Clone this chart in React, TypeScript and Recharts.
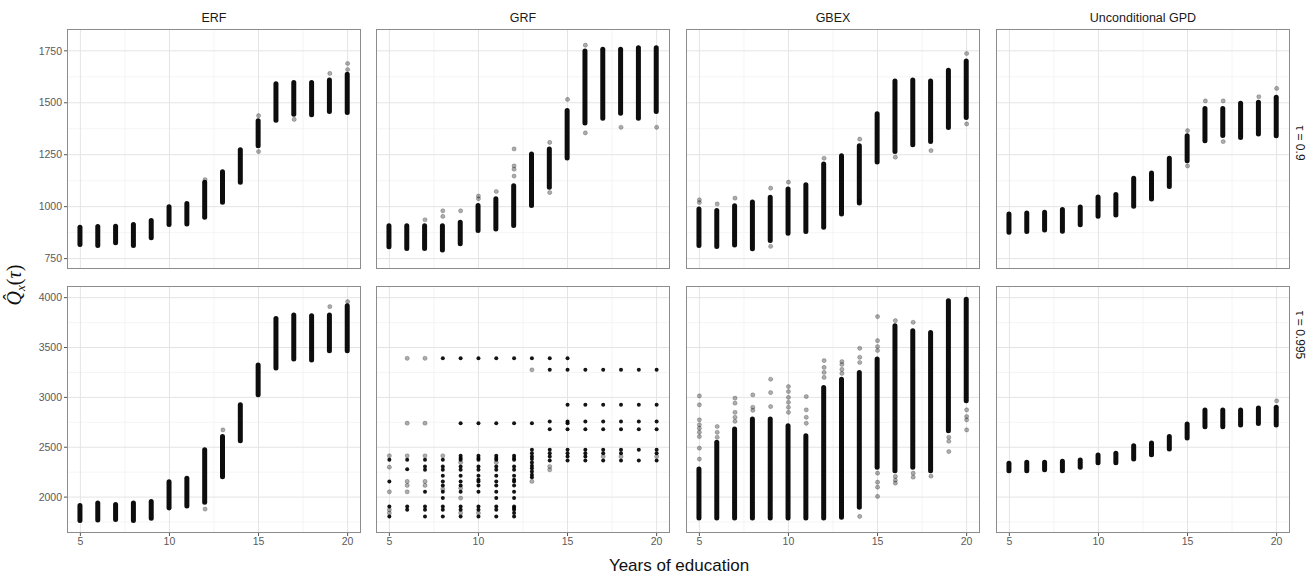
import React from 'react';
import { Bar, CartesianGrid, ComposedChart, Scatter, XAxis, YAxis } from 'recharts';

const YEARS = [5, 6, 7, 8, 9, 10, 11, 12, 13, 14, 15, 16, 17, 18, 19, 20];
const X_TICKS = [5, 10, 15, 20];
const X_MINOR = [7.5, 12.5, 17.5];
const Y_TICKS_090 = [750, 1000, 1250, 1500, 1750];
const Y_MINOR_090 = [875, 1125, 1375, 1625];
const Y_TICKS_995 = [2000, 2500, 3000, 3500, 4000];
const Y_MINOR_995 = [1750, 2250, 2750, 3250, 3750];
const METHODS = ['ERF', 'GRF', 'GBEX', 'Unconditional GPD'];
const TAUS = ['τ = 0.9', 'τ = 0.995'];

type Pt = [number, number];

// tau = 0.9 : spread of the estimates at each year of education
const ERF_090_LOW = [806, 801, 814, 801, 838, 902, 905, 937, 1009, 1105, 1281, 1404, 1433, 1430, 1446, 1441];
const ERF_090_HIGH = [913, 916, 918, 926, 945, 1012, 1027, 1129, 1180, 1286, 1425, 1604, 1609, 1609, 1622, 1649];
const ERF_090_OUT: Pt[] = [[12, 1130], [15, 1265], [15, 1438], [17, 1420], [19, 1641], [20, 1689], [20, 1660]];

const GRF_090_LOW = [795, 787, 787, 780, 810, 873, 881, 897, 993, 1081, 1222, 1390, 1414, 1438, 1414, 1446];
const GRF_090_HIGH = [920, 920, 920, 920, 937, 1018, 1050, 1113, 1265, 1289, 1475, 1761, 1769, 1769, 1777, 1777];
const GRF_090_OUT: Pt[] = [
  [7, 937], [8, 980], [8, 953], [9, 980], [10, 1051], [10, 1038], [11, 1073], [12, 1278], [12, 1196],
  [12, 1180], [12, 1147], [14, 1309], [14, 1068], [15, 1516], [16, 1777], [16, 1355], [18, 1382], [20, 1382],
];

const GBEX_090_LOW = [801, 796, 804, 786, 825, 860, 869, 889, 953, 1006, 1203, 1254, 1286, 1302, 1369, 1417];
const GBEX_090_HIGH = [1001, 993, 1017, 1035, 1057, 1097, 1118, 1217, 1257, 1305, 1459, 1617, 1621, 1617, 1669, 1713];
const GBEX_090_OUT: Pt[] = [
  [5, 1033], [5, 1020], [6, 1013], [7, 1041], [9, 1089], [9, 809], [10, 1118], [12, 1233], [14, 1325],
  [14, 1025], [16, 1238], [18, 1270], [20, 1737], [20, 1398],
];

const GPD_090_LOW = [865, 868, 876, 870, 901, 942, 948, 990, 1025, 1085, 1209, 1305, 1330, 1321, 1338, 1329];
const GPD_090_HIGH = [977, 982, 985, 998, 1011, 1059, 1070, 1149, 1174, 1245, 1353, 1485, 1485, 1510, 1514, 1538];
const GPD_090_OUT: Pt[] = [[15, 1366], [15, 1196], [16, 1509], [17, 1509], [17, 1313], [19, 1529], [20, 1569]];

// tau = 0.995
const ERF_995_LOW = [1740, 1746, 1750, 1740, 1763, 1866, 1886, 1923, 2180, 2541, 3002, 3269, 3359, 3349, 3442, 3442];
const ERF_995_HIGH = [1940, 1967, 1950, 1967, 1980, 2180, 2214, 2501, 2634, 2952, 3349, 3816, 3850, 3843, 3850, 3943];
const ERF_995_OUT: Pt[] = [[12, 1880], [13, 2674], [19, 3910], [20, 3960]];

const GRF_995_SOLID: Pt[] = [
  [5, 2374], [5, 2157], [5, 1906], [5, 1806],
  [6, 2374], [6, 2280], [6, 1906], [6, 1873],
  [7, 2374], [7, 2307], [7, 2274], [7, 2053], [7, 1906], [7, 1873], [7, 1806],
  [8, 3392], [8, 2374], [8, 2307], [8, 2274], [8, 2214], [8, 2157], [8, 2117], [8, 2053], [8, 1990], [8, 1906], [8, 1873], [8, 1806],
  [9, 3392], [9, 2741], [9, 2414], [9, 2391], [9, 2374], [9, 2307], [9, 2274], [9, 2214], [9, 2157], [9, 2117], [9, 2053], [9, 1906], [9, 1873], [9, 1806],
  [10, 3392], [10, 2741], [10, 2414], [10, 2391], [10, 2374], [10, 2307], [10, 2274], [10, 2214], [10, 2174], [10, 2157], [10, 2117], [10, 2053], [10, 1906], [10, 1873], [10, 1806],
  [11, 3392], [11, 2741], [11, 2414], [11, 2391], [11, 2374], [11, 2307], [11, 2274], [11, 2214], [11, 2157], [11, 2117], [11, 2053], [11, 1990], [11, 1906], [11, 1873], [11, 1806],
  [12, 3392], [12, 2741], [12, 2414], [12, 2391], [12, 2374], [12, 2307], [12, 2274], [12, 2214], [12, 2174], [12, 2157], [12, 2117], [12, 2053], [12, 1990], [12, 1906], [12, 1890], [12, 1873], [12, 1840], [12, 1806],
  [13, 3392], [13, 2741], [13, 2474], [13, 2441], [13, 2407], [13, 2381], [13, 2347], [13, 2314], [13, 2290], [13, 2257], [13, 2224], [13, 2200],
  [14, 3392], [14, 3276], [14, 2758], [14, 2681], [14, 2474], [14, 2441], [14, 2407], [14, 2367],
  [15, 3392], [15, 3276], [15, 2925], [15, 2758], [15, 2741], [15, 2681], [15, 2474], [15, 2441], [15, 2407], [15, 2367],
  [16, 3276], [16, 2925], [16, 2758], [16, 2681], [16, 2474], [16, 2441], [16, 2407], [16, 2367],
  [17, 3276], [17, 2925], [17, 2758], [17, 2681], [17, 2474], [17, 2441], [17, 2367],
  [18, 3276], [18, 2925], [18, 2758], [18, 2681], [18, 2474], [18, 2441], [18, 2367],
  [19, 3276], [19, 2925], [19, 2758], [19, 2681], [19, 2474], [19, 2367],
  [20, 3276], [20, 2925], [20, 2758], [20, 2681], [20, 2474], [20, 2441], [20, 2367],
];
const GRF_995_FAINT: Pt[] = [
  [5, 2414], [5, 2300], [5, 2053], [5, 1873], [5, 1840],
  [6, 3392], [6, 2741], [6, 2414], [6, 2157], [6, 2117], [6, 2053],
  [7, 3392], [7, 2741], [7, 2414], [7, 2157], [7, 2117],
  [8, 2414], [8, 2080],
  [9, 2347], [9, 2090], [9, 1990], [9, 1840],
  [10, 1840], [11, 2347],
  [13, 3276], [13, 2157], [14, 2307], [14, 2274],
  [17, 2407], [18, 2407], [20, 2407],
];

const GBEX_995_LOW = [1766, 1766, 1766, 1766, 1766, 1766, 1766, 1766, 1773, 1873, 2274, 2240, 2274, 2240, 2641, 2942];
const GBEX_995_HIGH = [2307, 2574, 2708, 2808, 2808, 2741, 2641, 3125, 3208, 3275, 3409, 3743, 3693, 3676, 3993, 4010];
const GBEX_995_OUT: Pt[] = [
  [5, 3015], [5, 2925], [5, 2775], [5, 2725], [5, 2690], [5, 2650], [5, 2607], [5, 2491], [5, 2381],
  [6, 2708], [6, 2650], [6, 2600],
  [7, 2992], [7, 2942], [7, 2850], [7, 2800], [7, 2760],
  [8, 3025], [8, 2901], [8, 2870],
  [9, 3182], [9, 3048], [9, 2908],
  [10, 3108], [10, 3058], [10, 3000], [10, 2950], [10, 2900], [10, 2850],
  [11, 3008], [11, 2875], [11, 2800], [11, 2740],
  [12, 3369], [12, 3300], [12, 3250], [12, 3200],
  [13, 3359], [13, 3330], [13, 3280], [13, 3240],
  [14, 3492], [14, 3402], [14, 3350], [14, 1806],
  [15, 3810], [15, 3569], [15, 3509], [15, 3470], [15, 2240], [15, 2150], [15, 2100], [15, 2007],
  [16, 3770], [16, 2207], [16, 2170], [16, 2140],
  [17, 3753], [17, 2240], [17, 2200], [18, 2210],
  [19, 2457], [19, 2560], [19, 2600],
  [20, 2875], [20, 2808], [20, 2775], [20, 2674],
];

const GPD_995_LOW = [2240, 2240, 2250, 2240, 2274, 2320, 2320, 2357, 2400, 2457, 2568, 2681, 2681, 2698, 2714, 2698];
const GPD_995_HIGH = [2364, 2374, 2374, 2384, 2397, 2447, 2464, 2541, 2568, 2634, 2758, 2898, 2898, 2898, 2918, 2925];
const GPD_995_OUT: Pt[] = [[20, 2965]];

const FONT = '"Liberation Sans", Arial, sans-serif';
const PLOT_LEFT = [67, 376, 686, 996];
const PLOT_W = 294;
const ROW_TOP = [29, 286];
const ROW_H = [240, 247];
const Y_AXIS_W = 40;
const X_AXIS_H = 24;

interface PanelProps {
  col: number;
  row: number;
  low?: number[];
  high?: number[];
  out?: Pt[];
  solid?: Pt[];
  faint?: Pt[];
}

const PANELS: PanelProps[] = [
  { col: 0, row: 0, low: ERF_090_LOW, high: ERF_090_HIGH, out: ERF_090_OUT },
  { col: 1, row: 0, low: GRF_090_LOW, high: GRF_090_HIGH, out: GRF_090_OUT },
  { col: 2, row: 0, low: GBEX_090_LOW, high: GBEX_090_HIGH, out: GBEX_090_OUT },
  { col: 3, row: 0, low: GPD_090_LOW, high: GPD_090_HIGH, out: GPD_090_OUT },
  { col: 0, row: 1, low: ERF_995_LOW, high: ERF_995_HIGH, out: ERF_995_OUT },
  { col: 1, row: 1, solid: GRF_995_SOLID, faint: GRF_995_FAINT },
  { col: 2, row: 1, low: GBEX_995_LOW, high: GBEX_995_HIGH, out: GBEX_995_OUT },
  { col: 3, row: 1, low: GPD_995_LOW, high: GPD_995_HIGH, out: GPD_995_OUT },
];

const toPoints = (pts: Pt[]) => pts.map(([x, y]) => ({ x, y }));

const faintDot = (p: any) => (
  <circle cx={p.cx} cy={p.cy} r={2.1} fill="#000" fillOpacity={0.32} stroke="#000" strokeOpacity={0.35} strokeWidth={0.6} />
);
const solidDot = (p: any) => <circle cx={p.cx} cy={p.cy} r={2} fill="#000" fillOpacity={0.92} />;

function Panel({ col, row, low, high, out, solid, faint }: PanelProps) {
  const showY = col === 0;
  const showX = row === 1;
  const data = YEARS.map((x, i) => ({ x, range: low && high ? [low[i], high[i]] : null }));
  const yTicks = row === 0 ? Y_TICKS_090 : Y_TICKS_995;
  const yMinor = row === 0 ? Y_MINOR_090 : Y_MINOR_995;
  const yDomain = row === 0 ? [700, 1855] : [1640, 4117];
  const width = PLOT_W + (showY ? Y_AXIS_W : 0);
  const height = ROW_H[row] + (showX ? X_AXIS_H : 0);
  const tick = { fontSize: 10.5, fill: '#5a5a5a', fontFamily: FONT };

  return (
    <>
      <div style={{ position: 'absolute', left: PLOT_LEFT[col] - (showY ? Y_AXIS_W : 0), top: ROW_TOP[row] }}>
        <ComposedChart width={width} height={height} data={data} margin={{ top: 0, right: 0, bottom: 0, left: 0 }}>
          <CartesianGrid stroke="#f0f0f0" strokeWidth={0.7} horizontalValues={yMinor} verticalValues={X_MINOR} />
          <CartesianGrid stroke="#e4e4e4" strokeWidth={1} horizontalValues={yTicks} verticalValues={X_TICKS} />
          <XAxis
            dataKey="x"
            type="number"
            domain={[4.25, 20.75]}
            ticks={X_TICKS}
            allowDataOverflow
            hide={!showX}
            height={X_AXIS_H}
            axisLine={false}
            tickSize={3}
            tickLine={{ stroke: '#555' }}
            tick={tick}
          />
          <YAxis
            type="number"
            domain={yDomain}
            ticks={yTicks}
            allowDataOverflow
            hide={!showY}
            width={Y_AXIS_W}
            axisLine={false}
            tickSize={3}
            tickLine={{ stroke: '#555' }}
            tick={tick}
          />
          {low && (
            <Bar dataKey="range" barSize={5} radius={2.5} fill="#000" fillOpacity={0.95} isAnimationActive={false} />
          )}
          {out && <Scatter data={toPoints(out)} dataKey="y" shape={faintDot} isAnimationActive={false} />}
          {faint && <Scatter data={toPoints(faint)} dataKey="y" shape={faintDot} isAnimationActive={false} />}
          {solid && <Scatter data={toPoints(solid)} dataKey="y" shape={solidDot} isAnimationActive={false} />}
        </ComposedChart>
      </div>
      <div
        style={{
          position: 'absolute',
          left: PLOT_LEFT[col],
          top: ROW_TOP[row],
          width: PLOT_W,
          height: ROW_H[row],
          border: '1.2px solid #8c8c8c',
          boxSizing: 'border-box',
          pointerEvents: 'none',
        }}
      />
    </>
  );
}

export default function App() {
  return (
    <div style={{ position: 'absolute', left: 0, top: 0, width: 1311, height: 583, background: '#fff', overflow: 'hidden' }}>
      {PANELS.map((p) => (
        <Panel key={`${p.col}-${p.row}`} {...p} />
      ))}
      <svg width={1311} height={583} style={{ position: 'absolute', left: 0, top: 0, pointerEvents: 'none' }}>
        {METHODS.map((m, i) => (
          <text
            key={m}
            x={PLOT_LEFT[i] + PLOT_W / 2}
            y={22}
            textAnchor="middle"
            fontFamily={FONT}
            fontSize={12.5}
            fill="#1a1a1a"
          >
            {m}
          </text>
        ))}
        <text transform="translate(1296,143) rotate(90)" textAnchor="middle" fontFamily={FONT} fontSize={12} fill="#1a1a1a">
          {TAUS[0]}
        </text>
        <text transform="translate(1296,335) rotate(90)" textAnchor="middle" fontFamily={FONT} fontSize={12} fill="#1a1a1a">
          {TAUS[1]}
        </text>
        <text
          transform="translate(21,285) rotate(-90)"
          textAnchor="middle"
          fontFamily='"Liberation Serif", "DejaVu Serif", serif'
          fontStyle="italic"
          fontSize={20}
          fill="#111"
        >
          <tspan>Q̂</tspan>
          <tspan fontSize={13} dy={4}>x</tspan>
          <tspan dy={-4} fontStyle="normal">(</tspan>
          <tspan>τ</tspan>
          <tspan fontStyle="normal">)</tspan>
        </text>
        <text x={679} y={571} textAnchor="middle" fontFamily={FONT} fontSize={17} fill="#111">
          Years of education
        </text>
      </svg>
    </div>
  );
}
